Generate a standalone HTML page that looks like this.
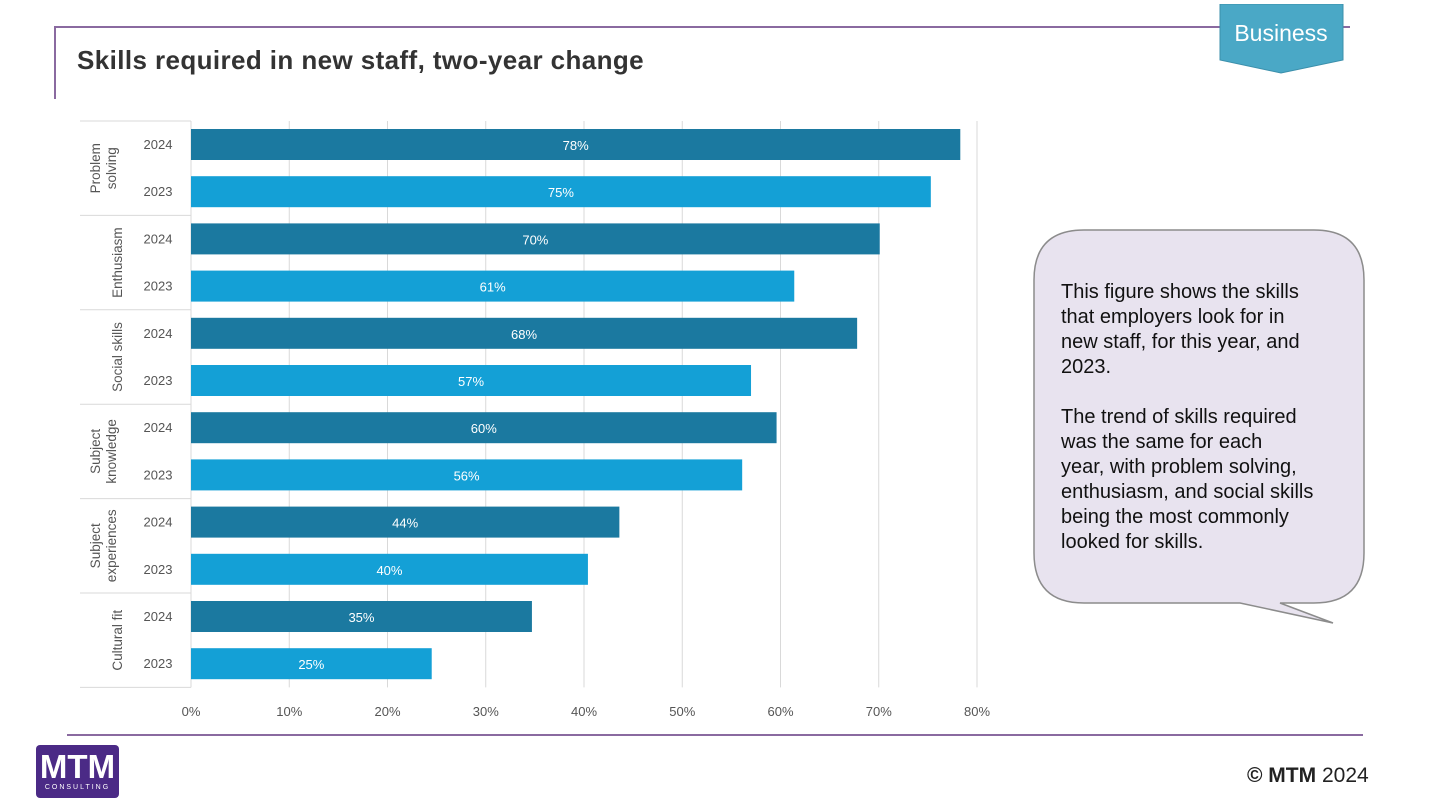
<!DOCTYPE html>
<html><head><meta charset="utf-8"><style>
body{margin:0;width:1435px;height:811px;background:#fff;position:relative;overflow:hidden;font-family:"Liberation Sans",sans-serif}
.abs{position:absolute}
</style></head><body>
<div class="abs" style="left:54px;top:26px;width:1296px;height:2px;background:#8a6aa0"></div>
<div class="abs" style="left:54px;top:26px;width:2px;height:73px;background:#8a6aa0"></div>
<div class="abs" style="left:77px;top:45px;font-size:26px;font-weight:bold;color:#333;letter-spacing:0.4px">Skills required in new staff, two-year change</div>
<svg class="abs" style="left:1219px;top:4px" width="126" height="72"><polygon points="1,0 124,0 124,56 62,69 1,56" fill="#4aa8c6" stroke="#3b8fab"/><text x="62" y="37" text-anchor="middle" font-size="23" fill="#fff" font-family="Liberation Sans, sans-serif">Business</text></svg>
<svg class="abs" style="left:0;top:0" width="1000" height="730" id="chart"></svg>
<svg class="abs" style="left:1030px;top:226px" width="340" height="402"><path d="M54,4 H284 Q334,4 334,54 V327 Q334,377 284,377 H250 L303,397 L210,377 H54 Q4,377 4,327 V54 Q4,4 54,4 Z" fill="#e8e3ef" stroke="#8c8c8c" stroke-width="1.5"/></svg>
<div class="abs" style="left:1061px;top:280px;width:300px;font-size:20px;line-height:25px;color:#111;white-space:nowrap">This figure shows the skills<br>that employers look for in<br>new staff, for this year, and<br>2023.<br><br>The trend of skills required<br>was the same for each<br>year, with problem solving,<br>enthusiasm, and social skills<br>being the most commonly<br>looked for skills.</div>
<div class="abs" style="left:67px;top:734px;width:1296px;height:2px;background:#8a6aa0"></div>
<div class="abs" style="left:36px;top:745px;width:83px;height:53px;background:#4b2a86;border-radius:4px;color:#fff;text-align:center"><div style="font-size:33px;font-weight:bold;line-height:34px;margin-top:5px;letter-spacing:0px">MTM</div><div style="font-size:7px;letter-spacing:2px">CONSULTING</div></div>
<div class="abs" style="left:1247px;top:764px;font-size:21px;color:#222"><b>© MTM</b> 2024</div>
<script>
const categories=["Problem solving","Enthusiasm","Social skills","Subject knowledge","Subject experiences","Cultural fit"];
const catLines=[["Problem","solving"],["Enthusiasm"],["Social skills"],["Subject","knowledge"],["Subject","experiences"],["Cultural fit"]];
const values2024=[78.3,70.1,67.8,59.6,43.6,34.7];
const values2023=[75.3,61.4,57.0,56.1,40.4,24.5];
const ticks=[0,10,20,30,40,50,60,70,80];
const svg=document.getElementById('chart');const NS='http://www.w3.org/2000/svg';
const x0=191,pxPer=9.825,top0=121,rowH=47.2;
const X=v=>x0+v*pxPer;
function el(t,a,txt){const e=document.createElementNS(NS,t);for(const k in a)e.setAttribute(k,a[k]);if(txt!=null)e.textContent=txt;svg.appendChild(e);return e;}
ticks.forEach(t=>{const g=el('line',{x1:X(t),x2:X(t),y1:top0,y2:top0+rowH*12,stroke:'#d9d9d9'});


const l=el('text',{x:X(t),y:716,'text-anchor':'middle','font-size':13,fill:'#555','font-family':'Liberation Sans, sans-serif'},t+'%');

});
el('line',{x1:80,x2:191,y1:top0,y2:top0,stroke:'#d9d9d9'});
categories.forEach((c,i)=>{
 const yb=top0+rowH*2*(i+1);
 const s=el('line',{x1:80,x2:191,y1:yb,y2:yb,stroke:'#d9d9d9'});
 
 
 const cy=top0+rowH*2*i+rowH;
 const tx=el('text',{transform:`translate(${catLines[i].length>1?100:122},${cy}) rotate(-90)`,'text-anchor':'middle','font-size':13.5,fill:'#555','font-family':'Liberation Sans, sans-serif'});
 
 
 catLines[i].forEach((ln,j)=>{const sp=document.createElementNS(NS,'tspan');sp.setAttribute('x',0);sp.setAttribute('dy',j?16:0);sp.textContent=ln;tx.appendChild(sp);});
 [[values2024[i],'#1b79a0','2024'],[values2023[i],'#14a0d6','2023']].forEach(([v,col,yr],k)=>{
  const y=top0+rowH*(2*i+k)+8;
  const r=el('rect',{x:x0,y:y,width:X(v)-x0,height:31,fill:col});
  
  
  const vl=el('text',{x:x0+(X(v)-x0)/2,y:y+21,'text-anchor':'middle','font-size':13,fill:'#fff','font-family':'Liberation Sans, sans-serif'},Math.round(v)+'%');
  
  
  const yl=el('text',{x:158,y:y+20,'text-anchor':'middle','font-size':13,fill:'#555','font-family':'Liberation Sans, sans-serif'},yr);
  
  
 });
});
</script>
</body></html>
